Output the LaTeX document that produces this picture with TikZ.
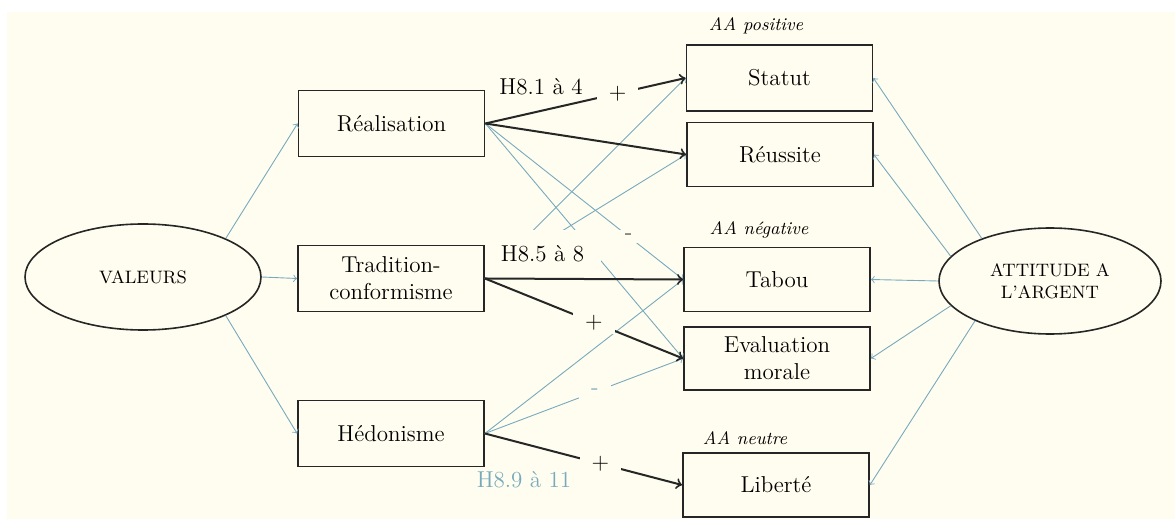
\documentclass[tikz,border=0pt]{standalone}
\usepackage{fontspec}
\usepackage{tikz}
\usetikzlibrary{shapes.geometric}
\definecolor{bgcream}{RGB}{255,253,239}
\definecolor{linegray}{RGB}{120,170,190}

\begin{document}
\begin{tikzpicture}[x=0.5pt,y=-0.5pt,
    font=\fontsize{11.5}{13.5}\selectfont,
    box/.style={draw=black!85,line width=0.9pt,fill=bgcream,minimum width=93pt,
        minimum height=33pt,inner sep=2pt,align=center},
    oval/.style={ellipse,draw=black!85,line width=0.8pt,fill=bgcream,minimum width=118pt,
        minimum height=53pt,inner sep=1pt,align=center,font=\small},
    link/.style={->,draw=linegray,line width=0.45pt},
    effect/.style={->,draw=black!85,line width=1pt},
    sign/.style={fill=bgcream,inner xsep=6pt,inner ysep=2pt},
    aa/.style={font=\small\itshape}]
				% page and background
				\fill[white] (0,0) rectangle (1175,519);
				\fill[bgcream] (7,12) rectangle (1175,519);
				\useasboundingbox (0,0) rectangle (1175,519);
				% the two latent variables
				\node[oval] (val) at (143,277) {VALEURS};
				\node[oval,minimum width=111pt] (att) at (1050,281) {ATTITUDE A\\L'ARGENT};
				% values
				\node[box] (real) at (391.5,123.5) {Réalisation};
				\node[box] (trad) at (391,278.5) {Tradition-\\conformisme};
				\node[box] (hedo) at (391,433.5) {Hédonisme};
				% attitude dimensions
				\node[box] (statut) at (779.5,78) {Statut};
				\node[box,minimum height=32pt] (reuss) at (780,154.5) {Réussite};
				\node[box,minimum height=32pt] (tabou) at (777,279.5) {Tabou};
				\node[box,minimum height=31.5pt] (eval) at (777,358.5) {Evaluation\\morale};
				\node[box,minimum height=32pt] (lib) at (776,485) {Liberté};
				\node[aa] (aapos) at (756,26) {AA positive};
				\node[aa] (aaneg) at (759,230) {AA négative};
				\node[aa] (aaneu) at (745,438) {AA neutre};
				% measurement links
				\draw[link] (val.25) -- (real.west);
				\draw[link] (val.east) -- (trad.west);
				\draw[link] (val.-25) -- (hedo.west);
				\draw[link] (att.148) -- (statut.east);
				\draw[link] (att.166) -- (reuss.east);
				\draw[link] (att.west) -- (tabou.east);
				\draw[link] (att.194) -- (eval.east);
				\draw[link] (att.208) -- (lib.east);
				% other paths
				\draw[link] (real.east) -- node[sign,pos=0.725,text=black!70] {-} (tabou.west);
				\draw[link] (real.east) -- (eval.west);
				\draw[link] (trad.east) -- (statut.west);
				\draw[link] (trad.east) -- (reuss.west);
				\draw[link] (hedo.east) -- (tabou.west);
				\draw[link] (hedo.east) -- node[sign,pos=0.555,text=linegray] {-} (eval.west);
				% hypotheses
				\node (h1) at (541,87) {H8.1 à 4};
				\node[fill=bgcream,minimum width=58pt,minimum height=23.5pt] (h2) at (542.5,254) {H8.5 à 8};
				\node[text=linegray] (h3) at (524,480) {H8.9 à 11};
				\draw[effect] (real.east) -- node[sign,pos=0.66] {+} (statut.west);
				\draw[effect] (real.east) -- (reuss.west);
				\draw[effect] (trad.east) -- (tabou.west);
				\draw[effect] (trad.east) -- node[sign,pos=0.55] {+} (eval.west);
				\draw[effect] (hedo.east) -- node[sign,pos=0.585] {+} (lib.west);
\end{tikzpicture}
\end{document}
